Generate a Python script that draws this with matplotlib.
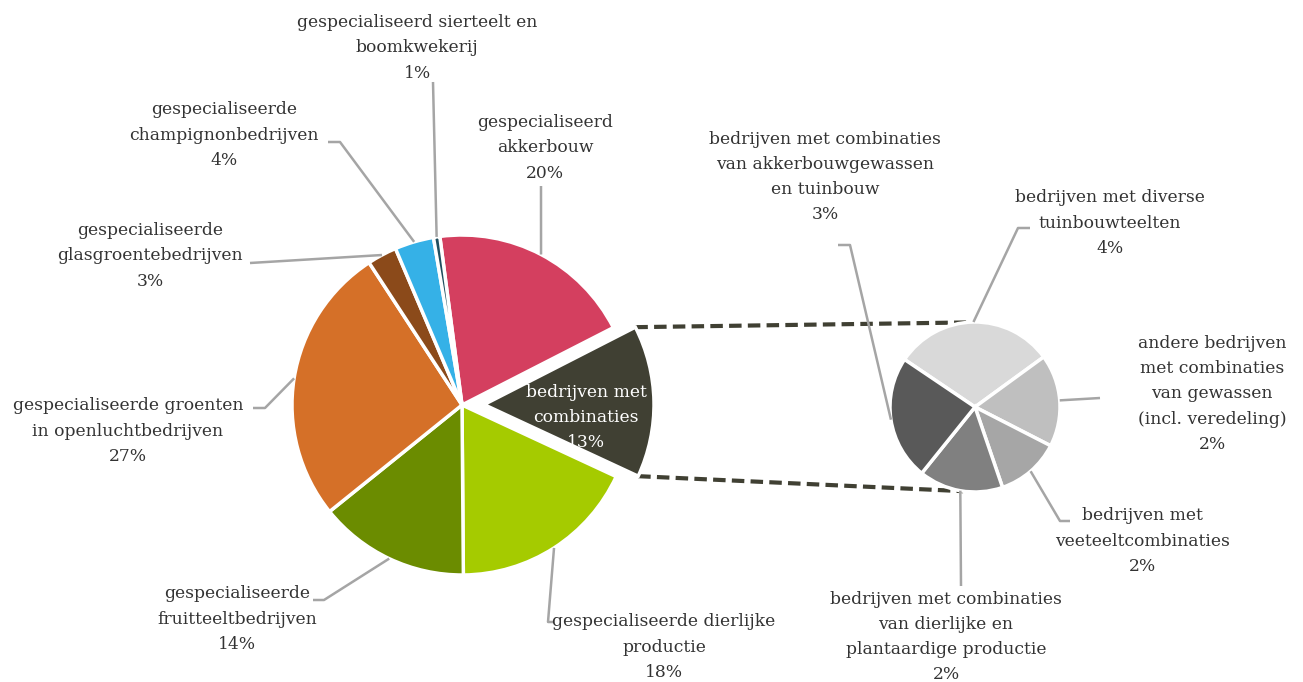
import matplotlib
matplotlib.use("Agg")
import matplotlib.pyplot as plt
import numpy as np

#------------- data -------------#
main_labels = ["gespecialiseerd\nakkerbouw\n20%",
               "bedrijven met\ncombinaties\n13%",
               "gespecialiseerde dierlijke\nproductie\n18%",
               "gespecialiseerde\nfruitteeltbedrijven\n14%",
               "gespecialiseerde groenten\nin openluchtbedrijven\n27%",
               "gespecialiseerde\nglasgroentebedrijven\n3%",
               "gespecialiseerde\nchampignonbedrijven\n4%",
               "gespecialiseerd sierteelt en\nboomkwekerij\n1%"]
main_values = [19.5, 14.4, 17.9, 14.3, 26.5, 2.8, 3.7, 0.6]
main_colors = ['#D43F5F', '#404033', '#A5CB00', '#6B8C00',
               '#D57028', '#8B4A1A', '#35B1E7', '#1F4E5F']

sub_labels = ["bedrijven met diverse\ntuinbouwteelten\n4%",
              "andere bedrijven\nmet combinaties\nvan gewassen\n(incl. veredeling)\n2%",
              "bedrijven met\nveeteeltcombinaties\n2%",
              "bedrijven met combinaties\nvan dierlijke en\nplantaardige productie\n2%",
              "bedrijven met combinaties\nvan akkerbouwgewassen\nen tuinbouw\n3%"]
sub_values = [4.0, 2.3, 1.6, 2.1, 3.1]
sub_colors = ['#D9D9D9', '#BFBFBF', '#A6A6A6', '#808080', '#595959']

W, H = 1303, 682

## label layout (pixel coords, y from top) ##
main_text_pos = [(545, 148), None, (664, 647), (237, 619),
                 (128, 431), (150, 256), (224, 135), (417, 48)]
main_leader = [[(541, 186)], None, [(553, 622), (548, 622)], [(313, 600), (324, 600)],
               [(253, 408), (265, 408)], [(250, 263)], [(328, 142), (340, 142)],
               [(433, 82)]]
sub_text_pos = [(1110, 223), (1212, 394), (1142, 541), (946, 637), (825, 177)]
sub_leader = [[(1030, 228), (1018, 228)], [(1100, 398)], [(1070, 521), (1060, 521)],
              [(961, 586)], [(838, 245), (850, 245)]]


def px(p):
    return (p[0], H - p[1])


fig = plt.figure(figsize=(W / 100, H / 100), dpi=100)
ax = fig.add_axes([0, 0, 1, 1])

main_c = px((462, 405))
sub_c = px((975, 407))
R1, R2 = 170, 85

## explode is in data units here (pixels) ##
explode = [0, 22, 0, 0, 0, 0, 0, 0]
w1, _ = ax.pie(main_values, colors=main_colors, startangle=97.5, counterclock=False,
               center=main_c, radius=R1, explode=explode,
               wedgeprops=dict(edgecolor='white', linewidth=2.5))
w2, _ = ax.pie(sub_values, colors=sub_colors, startangle=146, counterclock=False,
               center=sub_c, radius=R2,
               wedgeprops=dict(edgecolor='white', linewidth=2.5))

ax.set_xlim(0, W)
ax.set_ylim(0, H)
ax.set_aspect('equal')
ax.axis('off')

txt_kw = dict(ha='center', va='center', fontsize=12.3, family='DejaVu Serif',
              color='#333333', linespacing=1.62)
line_kw = dict(color='#A5A5A5', lw=1.8, solid_capstyle='butt', zorder=1)


def edge_point(w):
    mid = np.deg2rad((w.theta1 + w.theta2) / 2.)
    return (w.center[0] + w.r * np.cos(mid), w.center[1] + w.r * np.sin(mid))


## main labels ##
for i, w in enumerate(w1):
    if main_text_pos[i] is None:
        mid = np.deg2rad((w.theta1 + w.theta2) / 2.)
        cx = w.center[0] + 0.6 * w.r * np.cos(mid)
        cy = w.center[1] + 0.6 * w.r * np.sin(mid) - 15
        ax.text(cx, cy, main_labels[i], **dict(txt_kw, color='white'))
        continue
    ax.text(*px(main_text_pos[i]), main_labels[i], **txt_kw)
    pts = [px(p) for p in main_leader[i]] + [edge_point(w)]
    ax.plot([p[0] for p in pts], [p[1] for p in pts], **line_kw)

## sub labels ##
for i, w in enumerate(w2):
    ax.text(*px(sub_text_pos[i]), sub_labels[i], **txt_kw)
    pts = [px(p) for p in sub_leader[i]] + [edge_point(w)]
    ax.plot([p[0] for p in pts], [p[1] for p in pts], **line_kw)

## connector lines between the pies ##
wc = w1[1]
t1, t2 = np.deg2rad(wc.theta1), np.deg2rad(wc.theta2)
a = (wc.center[0] + wc.r * np.cos(t1), wc.center[1] + wc.r * np.sin(t1))
b = (wc.center[0] + wc.r * np.cos(t2), wc.center[1] + wc.r * np.sin(t2))
top = (sub_c[0] + R2 * np.cos(np.deg2rad(96)), sub_c[1] + R2 * np.sin(np.deg2rad(96)))
bot = (sub_c[0] + R2 * np.cos(np.deg2rad(-98)), sub_c[1] + R2 * np.sin(np.deg2rad(-98)))
for p, q in [(a, bot), (b, top)]:
    ax.plot([p[0], q[0]], [p[1], q[1]], color='#404033', lw=3, ls=(0, (3, 1.5)), zorder=0)

fig.savefig("out.png", dpi=100)
